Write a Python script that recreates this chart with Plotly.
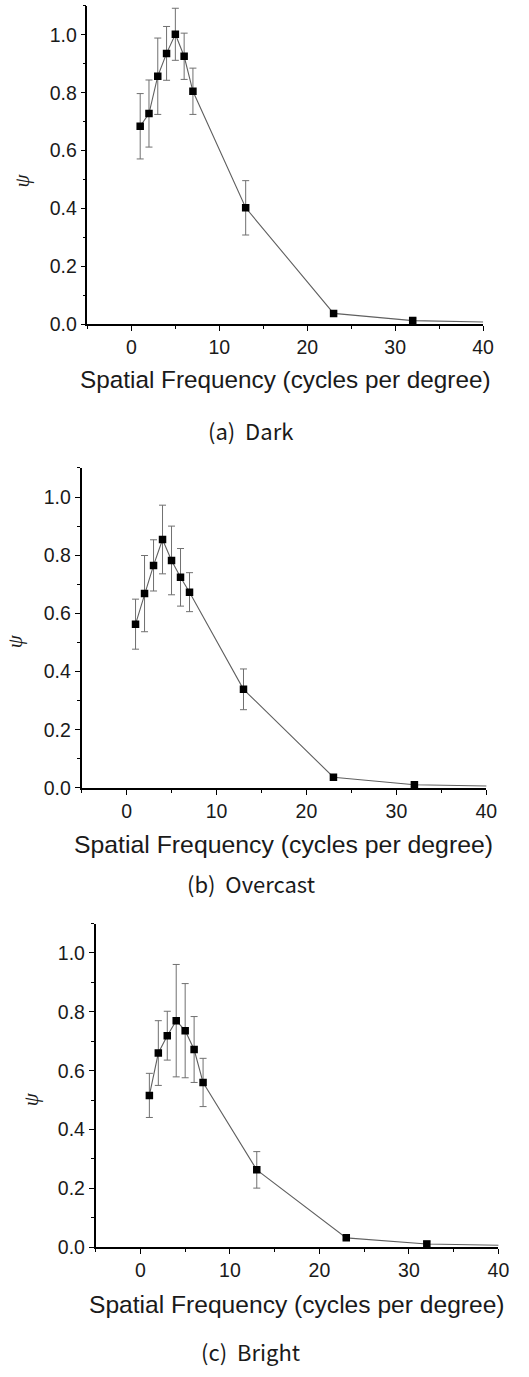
import plotly.graph_objects as go

W, H = 529, 1377

# Spatial frequencies (cycles per degree); last point lies beyond the visible range
freq = [1, 2, 3, 4, 5, 6, 7, 13, 23, 32, 45]

dark_psi = [0.684, 0.728, 0.857, 0.936, 1.002, 0.926, 0.805, 0.402, 0.037, 0.012, 0.004]
dark_err = [0.113, 0.116, 0.132, 0.093, 0.090, 0.080, 0.080, 0.094, 0.005, 0.008, 0.0]

overcast_psi = [0.563, 0.668, 0.765, 0.854, 0.782, 0.724, 0.673, 0.339, 0.037, 0.011, 0.004]
overcast_err = [0.086, 0.131, 0.088, 0.118, 0.118, 0.099, 0.067, 0.070, 0.005, 0.006, 0.0]

bright_psi = [0.516, 0.660, 0.719, 0.770, 0.736, 0.672, 0.560, 0.263, 0.032, 0.011, 0.004]
bright_err = [0.075, 0.110, 0.083, 0.191, 0.160, 0.112, 0.082, 0.062, 0.005, 0.010, 0.0]

captions = ["(a)\u00a0 Dark", "(b)\u00a0 Overcast", "(c)\u00a0 Bright"]
x_title = "Spatial Frequency (cycles per degree)"
y_title = "ψ"
x_ticks = [0, 10, 20, 30, 40]
y_ticks = [0.0, 0.2, 0.4, 0.6, 0.8, 1.0]

series = [(dark_psi, dark_err), (overcast_psi, overcast_err), (bright_psi, bright_err)]

# panel geometry in pixels: (left, right, top, bottom)
panels = [
    (89.3, 493.3, 6.0, 326.7),
    (83.3, 496.7, 471.7, 794.3),
    (97.7, 509.0, 931.0, 1257.3),
]
xtitle_y = [383, 851.7, 1315]
xtitle_size = [24.3, 24.8, 24.6]
caption_y = [433, 890, 1361.5]
ytitle_pos = [(22.7, 181.7), (15.0, 646.7), (31.7, 1108.0)]

fig = go.Figure()
layout = dict(
    width=W, height=H,
    margin=dict(l=0, r=0, t=0, b=0),
    paper_bgcolor="white", plot_bgcolor="white",
    showlegend=False,
    annotations=[],
)

for i, ((yv, ev), (l, r, t, b)) in enumerate(zip(series, panels)):
    n = "" if i == 0 else str(i + 1)
    fig.add_trace(go.Scatter(
        x=freq, y=yv,
        xaxis="x" + n, yaxis="y" + n,
        mode="lines+markers",
        line=dict(color="#606060", width=1.1),
        marker=dict(symbol="square", size=7.5, color="black"),
        error_y=dict(type="data", array=ev, visible=True,
                     color="#707070", thickness=1, width=3.5),
        cliponaxis=True,
    ))
    axis_common = dict(
        showline=True, linecolor="black", linewidth=1.6,
        showgrid=False, zeroline=False,
        ticks="outside", ticklen=5, tickwidth=1.3, tickcolor="black",
        tickfont=dict(family="Liberation Sans, Arial", size=19.5, color="#1a1a1a"),
    )
    layout["xaxis" + n] = dict(
        axis_common,
        domain=[l / W, r / W],
        range=[-5, 40],
        tickvals=x_ticks,
        minor=dict(dtick=5, tick0=0, ticks="outside", ticklen=3, tickcolor="black", tickwidth=1.2),
        anchor="y" + n,
    )
    layout["yaxis" + n] = dict(
        axis_common,
        domain=[1 - b / H, 1 - t / H],
        range=[0, 1.1],
        tickvals=y_ticks,
        tickformat=".1f",
        minor=dict(dtick=0.1, tick0=0, ticks="outside", ticklen=3, tickcolor="black", tickwidth=1.2),
        anchor="x" + n,
    )
    layout["annotations"].append(dict(
        text=x_title, xref="paper", yref="paper",
        x=(l + r) / 2 / W, y=1 - xtitle_y[i] / H,
        xanchor="center", yanchor="middle", showarrow=False,
        font=dict(family="Liberation Sans, Arial", size=xtitle_size[i], color="#1a1a1a"),
    ))
    layout["annotations"].append(dict(
        text=captions[i], xref="paper", yref="paper",
        x=256 / W, y=1 - caption_y[i] / H,
        xanchor="center", yanchor="middle", showarrow=False,
        font=dict(family="Noto Sans CJK KR, Noto Sans", size=22, color="#1a1a1a"),
    ))
    px, py = ytitle_pos[i]
    layout["annotations"].append(dict(
        text="<i>" + y_title + "</i>", xref="paper", yref="paper",
        x=px / W, y=1 - py / H,
        xanchor="center", yanchor="middle", showarrow=False, textangle=-90,
        font=dict(family="Liberation Serif, Times New Roman", size=21, color="#1a1a1a"),
    ))

fig.update_layout(**layout)
fig.write_html("out.html")
